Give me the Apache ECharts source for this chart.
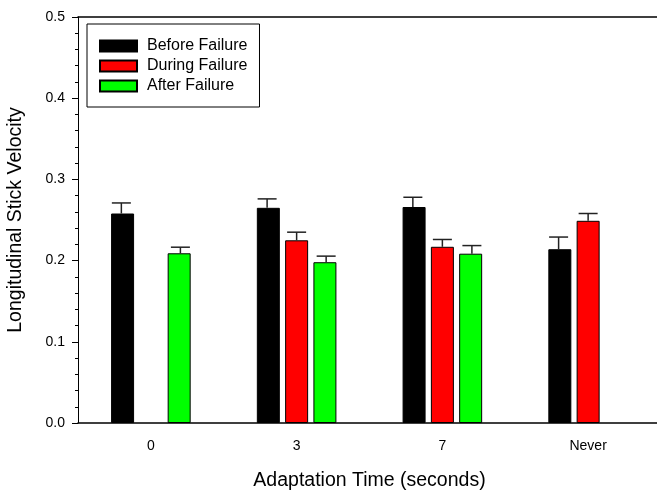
<!DOCTYPE html>
<html>
<head>
<meta charset="utf-8">
<script src="https://cdn.jsdelivr.net/npm/echarts@6/dist/echarts.min.js"></script>
<style>
  html, body { margin: 0; padding: 0; background: #fff; }
  #chart { width: 657px; height: 493px; }
</style>
</head>
<body>
<div id="chart"></div>
<script>
// Adaptation time groups on the x axis
var categories = ['0', '3', '7', 'Never'];

// Mean longitudinal stick velocity per phase (null = no data)
var beforeFailure = [0.258, 0.265, 0.266, 0.214];
var duringFailure = [null, 0.225, 0.217, 0.249];
var afterFailure  = [0.209, 0.198, 0.2085, null];

// Upper error bar lengths
var beforeErr = [0.013, 0.011, 0.012, 0.015];
var duringErr = [null, 0.010, 0.009, 0.009];
var afterErr  = [0.0075, 0.0075, 0.010, null];

var yTicks = [0.0, 0.1, 0.2, 0.3, 0.4, 0.5];

var FONT = '"Liberation Sans", Arial, sans-serif';
var BAR_W = 23;
var BAR_GAP = 0.23;

var phases = [
  { name: 'Before Failure', color: '#000000', values: beforeFailure, err: beforeErr },
  { name: 'During Failure', color: '#ff0000', values: duringFailure, err: duringErr },
  { name: 'After Failure',  color: '#00ff00', values: afterFailure,  err: afterErr }
];

var series = [];
phases.forEach(function (p) {
  series.push({
    name: p.name,
    type: 'bar',
    barWidth: BAR_W,
    barGap: (BAR_GAP * 100) + '%',
    data: p.values.map(function (v) { return v === null ? '-' : v; }),
    itemStyle: { color: p.color, borderColor: '#000', borderWidth: 1 },
    emphasis: { disabled: true },
    z: 2
  });
});

// Upper error whiskers, shifted onto each bar of the group
phases.forEach(function (p, k) {
  var data = [];
  p.values.forEach(function (v, i) {
    if (v !== null && p.err[i] !== null) data.push([i, v, v + p.err[i]]);
  });
  series.push({
    type: 'custom',
    silent: true,
    z: 3,
    data: data,
    encode: { x: 0, y: 2 },
    renderItem: function (params, api) {
      var step = (BAR_W + 1) * (1 + BAR_GAP);
      var dx = (k - 1) * step;
      var base = api.coord([api.value(0), api.value(1)]);
      var top = api.coord([api.value(0), api.value(2)]);
      var x = base[0] + dx;
      var half = 9.5;
      return {
        type: 'group',
        children: [
          { type: 'line', shape: { x1: x, y1: base[1], x2: x, y2: top[1] },
            style: { stroke: '#222', lineWidth: 1.5 } },
          { type: 'line', shape: { x1: x - half, y1: top[1], x2: x + half, y2: top[1] },
            style: { stroke: '#222', lineWidth: 1.5 } }
        ]
      };
    }
  });
});

var chart = echarts.init(document.getElementById('chart'), null, { renderer: 'canvas' });
chart.setOption({
  animation: false,
  backgroundColor: '#fff',
  textStyle: { fontFamily: FONT },
  grid: { left: 78, right: -4, top: 17, bottom: 70, containLabel: false, outerBoundsMode: 'none' },
  legend: {
    orient: 'vertical',
    left: 87, top: 24,
    data: phases.map(function (p) { return p.name; }),
    itemWidth: 37, itemHeight: 11, itemGap: 4,
    padding: [14, 12, 13, 12],
    borderColor: '#000', borderWidth: 1,
    icon: 'rect',
    selectedMode: false,
    textStyle: { fontFamily: FONT, fontSize: 16, color: '#000', padding: [0, 0, 0, 5] }
  },
  xAxis: [{
    type: 'category',
    data: categories,
    boundaryGap: true,
    name: 'Adaptation Time (seconds)',
    nameLocation: 'middle',
    nameGap: 48,
    nameTextStyle: { fontFamily: FONT, fontSize: 19.5, color: '#000' },
    axisLine: { lineStyle: { color: '#000', width: 1.5 } },
    axisTick: { alignWithLabel: true, length: 5, lineStyle: { color: '#333', width: 1.5 } },
    axisLabel: { fontFamily: FONT, fontSize: 14, color: '#000', margin: 16 },
    splitLine: { show: false }
  }, {
    // top frame line
    type: 'category',
    position: 'top',
    data: categories,
    axisLine: { show: true, lineStyle: { color: '#000', width: 1.5 } },
    axisTick: { show: false },
    axisLabel: { show: false },
    splitLine: { show: false }
  }],
  yAxis: {
    type: 'value',
    min: yTicks[0], max: yTicks[yTicks.length - 1], interval: 0.1,
    name: 'Longitudinal Stick Velocity',
    nameLocation: 'middle',
    nameGap: 52,
    nameTextStyle: { fontFamily: FONT, fontSize: 19.5, color: '#000' },
    axisLine: { show: true, lineStyle: { color: '#000', width: 1 } },
    axisTick: { show: true, length: 6, lineStyle: { color: '#000' } },
    minorTick: { show: true, splitNumber: 5, length: 3, lineStyle: { color: '#000' } },
    axisLabel: {
      fontFamily: FONT, fontSize: 14, color: '#000', margin: 13,
      formatter: function (v) { return v.toFixed(1); }
    },
    splitLine: { show: false }
  },
  series: series
});
</script>
</body>
</html>
